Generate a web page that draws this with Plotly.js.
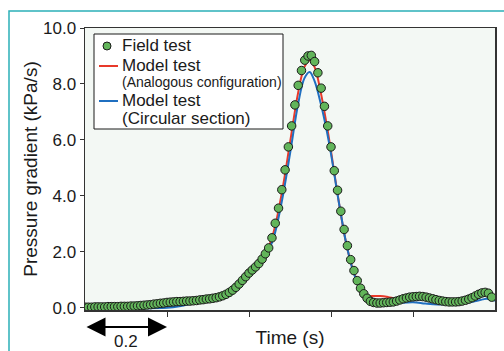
<!DOCTYPE html>
<html>
<head>
<meta charset="utf-8">
<script src="https://cdn.plot.ly/plotly-3.0.1.min.js"></script>
<style>html,body{margin:0;padding:0;background:#fff;}#chart{width:504px;height:351px;}</style>
</head>
<body>
<div id="chart"></div>
<script>
// ---- Data ----
const fieldStep = 0.008;
const fieldY = [
  0.02,0.02,0.02,0.03,0.03,0.03,0.03,0.04,0.04,0.04,
  0.04,0.05,0.05,0.05,0.06,0.06,0.07,0.08,0.09,0.10,
  0.11,0.13,0.14,0.16,0.17,0.19,0.20,0.21,0.22,0.22,
  0.23,0.24,0.24,0.25,0.26,0.28,0.29,0.31,0.32,0.34,
  0.36,0.39,0.43,0.48,0.55,0.63,0.73,0.85,0.98,1.11,
  1.24,1.35,1.46,1.58,1.74,1.93,2.14,2.50,3.02,3.56,
  4.22,4.93,5.75,6.50,7.25,7.95,8.48,8.85,9.00,9.02,
  8.80,8.40,7.85,7.20,6.50,5.75,4.90,4.20,3.45,2.80,
  2.22,1.72,1.33,0.97,0.70,0.50,0.34,0.23,0.19,0.17,
  0.17,0.18,0.19,0.20,0.21,0.24,0.28,0.32,0.35,0.38,
  0.39,0.40,0.41,0.40,0.38,0.35,0.32,0.29,0.26,0.24,
  0.22,0.21,0.21,0.21,0.22,0.24,0.27,0.31,0.36,0.42,
  0.48,0.53,0.55,0.52,0.38
];
const fieldX = fieldY.map((_, i) => +(i * fieldStep).toFixed(3));

const analogX = [0,0.10,0.20,0.22,0.25,0.30,0.33,0.36,0.38,0.40,0.42,0.44,0.46,0.48,0.50,0.52,0.535,0.548,0.56,0.575,0.59,0.60,0.62,0.64,0.66,0.68,0.69,0.70,0.72,0.74,0.76,0.80,0.82,0.85,0.90,0.93,0.96,0.975,1.0];
const analogY = [0,0.01,0.03,0.06,0.15,0.28,0.40,0.62,0.90,1.22,1.50,1.90,2.70,4.10,5.90,7.70,8.60,8.85,8.60,7.70,6.50,5.60,3.70,2.10,1.10,0.55,0.42,0.42,0.42,0.38,0.32,0.33,0.36,0.30,0.28,0.30,0.42,0.48,0.40];

const circX = [0,0.20,0.23,0.26,0.30,0.33,0.36,0.38,0.40,0.42,0.44,0.46,0.48,0.50,0.52,0.535,0.548,0.56,0.575,0.59,0.60,0.62,0.64,0.66,0.68,0.69,0.70,0.72,0.75,0.80,0.83,0.86,0.90,0.94,0.97,0.98,1.0];
const circY = [0,0.00,0.05,0.15,0.27,0.38,0.60,0.88,1.18,1.45,1.80,2.50,3.80,5.50,7.30,8.20,8.43,8.10,7.30,6.30,5.50,3.70,2.10,1.05,0.45,0.30,0.22,0.18,0.16,0.20,0.15,0.12,0.15,0.20,0.30,0.32,0.25];

const yTickVals = [0,2,4,6,8,10];
const yTickText = ["0.0","2.0","4.0","6.0","8.0","10.0"];
const xTickVals = [0.2,0.4,0.6,0.8];

const names = ["Field test","Model test","(Analogous configuration)","Model test","(Circular section)"];

// ---- Layout helpers (pixel -> paper) ----
const L = 85, R = 9, T = 28, B = 41, W = 504, H = 351;
const pw = W - L - R, ph = H - T - B;
const px = v => (v - L) / pw;
const py = v => (H - B - v) / ph;

const FONT = "Liberation Sans, Arial, sans-serif";

const traces = [
  {x: analogX, y: analogY, type: "scatter", mode: "lines", name: names[1],
   line: {color: "#e8392a", width: 2, shape: "spline"}, showlegend: false, hoverinfo: "skip"},
  {x: circX, y: circY, type: "scatter", mode: "lines", name: names[3],
   line: {color: "#1f6fc0", width: 2, shape: "spline"}, showlegend: false, hoverinfo: "skip"},
  {x: fieldX, y: fieldY, type: "scatter", mode: "markers", name: names[0],
   marker: {color: "#62b55a", size: 8.5, line: {color: "#1a1a1a", width: 1}}, showlegend: false}
];

const ann = (text, x, y, size) => ({
  text, xref: "paper", yref: "paper", x: px(x), y: py(y), xanchor: "left", yanchor: "middle",
  showarrow: false, font: {family: FONT, size: size, color: "#1a1a1a"}
});

const layout = {
  width: W, height: H,
  margin: {l: L, r: R, t: T, b: B, pad: 0},
  paper_bgcolor: "#ffffff",
  plot_bgcolor: "#f3f8f4",
  showlegend: false,
  font: {family: FONT, size: 17, color: "#1a1a1a"},
  xaxis: {
    range: [0, 1.0], tickvals: xTickVals, showticklabels: false,
    ticks: "outside", ticklen: 5, tickwidth: 1, tickcolor: "#333",
    showline: true, linecolor: "#333", linewidth: 1.5, mirror: true,
    showgrid: false, zeroline: false,
    title: {text: "Time (s)", font: {size: 19}, standoff: 15}
  },
  yaxis: {
    range: [-0.08, 10.0], tickvals: yTickVals, ticktext: yTickText,
    ticks: "outside", ticklen: 4, tickwidth: 1, tickcolor: "#333",
    showline: true, linecolor: "#333", linewidth: 1.5, mirror: true,
    showgrid: false, zeroline: false,
    tickfont: {size: 17},
    title: {text: "Pressure gradient (kPa/s)", font: {size: 19}, standoff: 0}
  },
  shapes: [
    {type: "rect", xref: "paper", yref: "paper", x0: px(9), x1: px(520), y0: py(370), y1: py(11),
     line: {color: "#2bb0b8", width: 1.5}, fillcolor: "rgba(0,0,0,0)", layer: "below"},
    {type: "rect", xref: "paper", yref: "paper", x0: px(94), x1: px(283), y0: py(129), y1: py(34),
     line: {color: "#1a1a1a", width: 1}, fillcolor: "#ffffff"},
    {type: "circle", xref: "paper", yref: "paper", x0: px(103), x1: px(111), y0: py(50), y1: py(42),
     line: {color: "#1a1a1a", width: 1}, fillcolor: "#62b55a"},
    {type: "line", xref: "paper", yref: "paper", x0: px(99), x1: px(118), y0: py(66), y1: py(66),
     line: {color: "#e8392a", width: 2}},
    {type: "line", xref: "paper", yref: "paper", x0: px(99), x1: px(118), y0: py(101), y1: py(101),
     line: {color: "#1f6fc0", width: 2}}
  ],
  annotations: [
    ann(names[0], 120, 46, 17),
    ann(names[1], 120, 65, 17),
    ann(names[2], 120, 82, 14),
    ann(names[3], 120, 100, 17),
    ann(names[4], 120, 118, 17),
    {xref: "x", yref: "paper", x: 0.2, y: py(327), axref: "x", ayref: "pixel", ax: 0, ay: 0,
     text: "", showarrow: true, arrowside: "end+start", arrowhead: 2, arrowsize: 1.9, arrowwidth: 2,
     arrowcolor: "#000", standoff: 0, startstandoff: 0},
    {xref: "x", yref: "paper", x: 0.1, y: py(341), text: "0.2", showarrow: false,
     xanchor: "center", yanchor: "middle", font: {size: 17, family: FONT, color: "#1a1a1a"}}
  ]
};

Plotly.newPlot("chart", traces, layout, {staticPlot: true, displayModeBar: false});
</script>
</body>
</html>
